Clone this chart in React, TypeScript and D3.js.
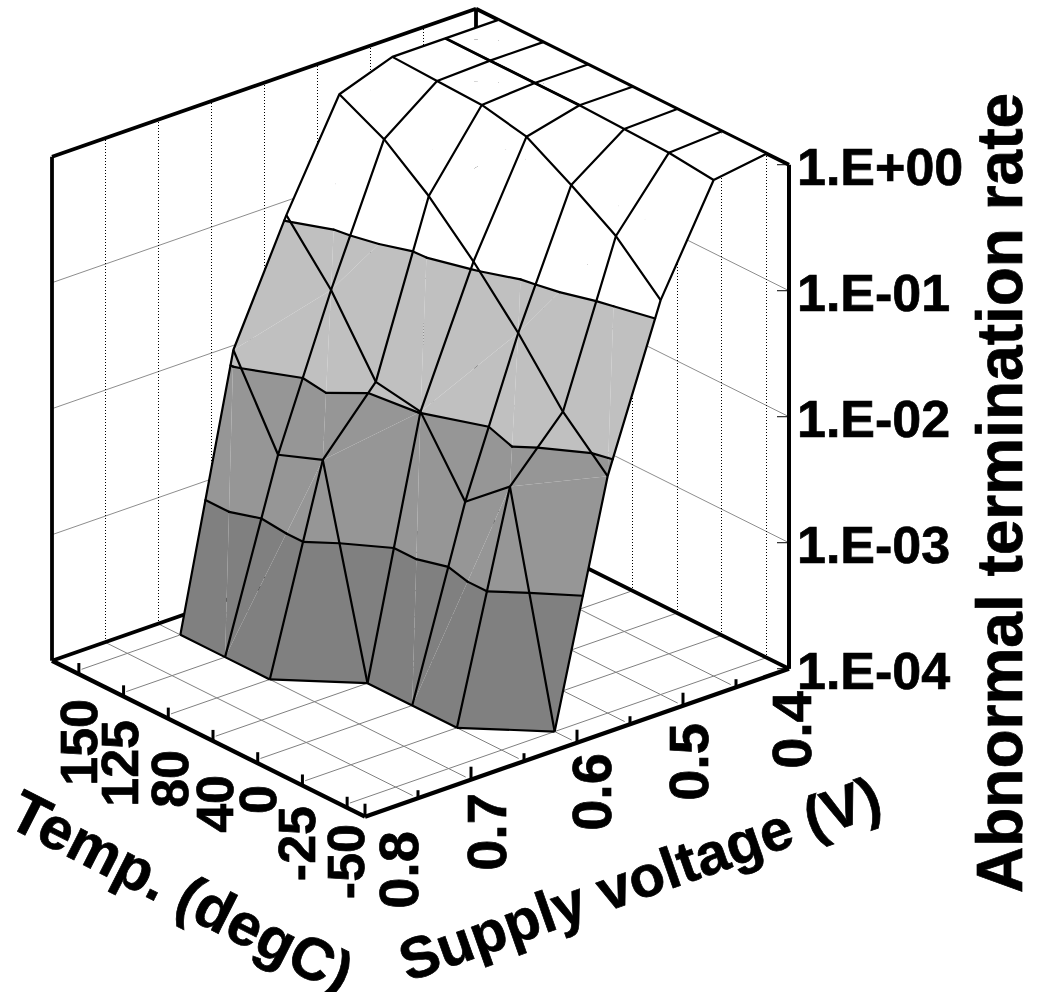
import React, { useEffect, useRef } from "react";
import * as d3 from "d3";

// categories
const temps = [-50, -25, 0, 40, 80, 125, 150];
const voltages = ["0.8", "0.75", "0.7", "0.65", "0.6", "0.55", "0.5", "0.45", "0.4"];
const rateTicks = [1, 0.1, 0.01, 0.001, 0.0001];
const rateLabels = ["1.E+00", "1.E-01", "1.E-02", "1.E-03", "1.E-04"];
const voltageLabels = ["0.8", "0.7", "0.6", "0.5", "0.4"];

// abnormal termination rate per temperature, one value per voltage (null = nothing measured)
const rateM50 = [null, null, null, null, 0.0001, 0.00759, 0.135, 0.865, 1];
const rateM25 = [null, null, null, 0.0001, 0.00585, 0.0164, 0.29, 0.948, 1];
const rate0 = [null, null, null, 0.0001, 0.00295, 0.046, 0.49, 0.973, 1];
const rate40 = [null, null, null, 0.0001, 0.0102, 0.113, 0.789, 1, 1];
const rate80 = [null, null, 0.0001, 0.00394, 0.0117, 0.249, 0.938, 1, 1];
const rate125 = [null, null, 0.0001, 0.00288, 0.0417, 0.468, 0.966, 1, 1];
const rate150 = [null, null, 0.0001, 0.013, 0.109, 0.708, 1, 1, 1];
const rates = [rateM50, rateM25, rate0, rate40, rate80, rate125, rate150];

// contour bands, low to high
const bandEdges = [-4, -3, -2, -1, 0];
const bandFills = ["#808080", "#969696", "#c0c0c0", "#ffffff"];

const FONT = "'Liberation Sans', Arial, sans-serif";

type P = { x: number; y: number; z: number };

const App = () => {
  const ref = useRef<SVGSVGElement>(null);

  useEffect(() => {
    const svg = d3.select(ref.current);
    svg.selectAll("*").remove();

    // oblique projection of the box, front corner is (-50, 0.8, 1e-4)
    const front = { x: 365, y: 816.7 };
    const tSlope = 0.4984;
    const vSlope = 0.349;
    const tLen = 313;
    const vLen = 424;
    const zLen = 504;

    const t = d3.scaleBand<number>().domain(temps).range([0, tLen]);
    const tc = (d: number) => t(d)! + t.bandwidth() / 2;
    const v = d3.scalePoint<string>().domain(voltages).range([0, vLen]);
    const z = d3.scaleLog().domain([1e-4, 1]).range([0, zLen]);

    const proj = (tp: number, vp: number, h: number) => ({
      x: front.x - tp + vp,
      y: front.y - tp * tSlope - vp * vSlope - h,
    });
    const line = d3
      .line<{ x: number; y: number }>()
      .x((d) => d.x)
      .y((d) => d.y);

    const seg = (
      a: { x: number; y: number },
      b: { x: number; y: number },
      stroke: string,
      width: number,
      dash?: string
    ) =>
      svg
        .append("path")
        .attr("d", line([a, b]))
        .attr("fill", "none")
        .attr("stroke", stroke)
        .attr("stroke-width", width)
        .attr("stroke-dasharray", dash ?? null);

    // wall gridlines
    [0.1, 0.01, 0.001].forEach((r) => {
      seg(proj(tLen, 0, z(r)), proj(tLen, vLen, z(r)), "#808080", 0.9);
      seg(proj(0, vLen, z(r)), proj(tLen, vLen, z(r)), "#808080", 0.9);
    });
    voltages.slice(1, 8).forEach((d) => {
      seg(proj(tLen, v(d)!, 0), proj(tLen, v(d)!, zLen), "#000", 1, "1 2").attr("shape-rendering", "crispEdges");
    });
    temps.forEach((d) => {
      seg(proj(tc(d), vLen, 0), proj(tc(d), vLen, zLen), "#000", 1, "1 2").attr("shape-rendering", "crispEdges");
    });

    // floor gridlines
    const inset = 0.017;
    temps.forEach((d) => {
      seg(proj(tc(d), vLen * inset, 0), proj(tc(d), vLen, 0), "#808080", 1);
    });
    voltages.slice(1, 8).forEach((d) => {
      seg(proj(tLen * inset, v(d)!, 0), proj(tLen, v(d)!, 0), "#808080", 1);
    });

    // box
    const boxW = 3.8;
    seg(proj(tLen, 0, 0), proj(tLen, 0, zLen), "#000", boxW);
    seg(proj(tLen, 0, zLen), proj(tLen, vLen, zLen), "#000", boxW);
    seg(proj(tLen, vLen, zLen), proj(0, vLen, zLen), "#000", boxW);
    seg(proj(tLen, vLen, 0), proj(tLen, vLen, zLen), "#000", boxW);
    seg(proj(tLen, 0, 0), proj(tLen, vLen, 0), "#000", boxW);
    seg(proj(tLen, vLen, 0), proj(0, vLen, 0), "#000", boxW);

    // surface vertices, null where there is no value
    const grid: (P | null)[][] = rates.map((row, i) =>
      row.map((r, j) => {
        if (r === null) return null;
        const p = proj(tc(temps[i]), v(voltages[j])!, z(r));
        return { ...p, z: Math.log10(r) };
      })
    );

    // split each cell in triangles, the diagonal alternates like a checkerboard
    const tris: P[][] = [];
    const extraEdges: [P, P][] = [];
    for (let j = voltages.length - 2; j >= 0; j--) {
      for (let i = temps.length - 1; i >= 1; i--) {
        const a = grid[i][j];
        const b = grid[i - 1][j];
        const c = grid[i - 1][j + 1];
        const d = grid[i][j + 1];
        if (!c || !d) continue;
        if (a && b) {
          if ((i + j) % 2 === 1) tris.push([a, b, c], [a, c, d]);
          else tris.push([a, b, d], [b, c, d]);
        } else if (a) {
          tris.push([a, c, d]);
          extraEdges.push([a, c]);
        }
      }
    }

    const lerp = (a: P, b: P, level: number): P => {
      const f = (level - a.z) / (b.z - a.z);
      return { x: a.x + (b.x - a.x) * f, y: a.y + (b.y - a.y) * f, z: level };
    };
    // clip a polygon to one side of a z level
    const clip = (poly: P[], level: number, keepAbove: boolean) => {
      const inside = (p: P) => (keepAbove ? p.z >= level : p.z <= level);
      const out: P[] = [];
      poly.forEach((p, n) => {
        const q = poly[(n + 1) % poly.length];
        if (inside(p)) out.push(p);
        if (inside(p) !== inside(q)) out.push(lerp(p, q, level));
      });
      return out;
    };

    const surface = svg.append("g");
    tris.forEach((tri) => {
      bandFills.forEach((fill, b) => {
        let poly = clip(tri, bandEdges[b], true);
        if (poly.length) poly = clip(poly, bandEdges[b + 1], false);
        if (poly.length < 3) return;
        surface
          .append("path")
          .attr("d", line(poly) + "Z")
          .attr("fill", fill)
          .attr("stroke", "none");
      });
    });

    // mesh lines
    const meshW = 2.2;
    const mesh = (pts: (P | null)[], width = meshW) => {
      const clean = pts.filter((p): p is P => p !== null);
      if (clean.length < 2) return;
      svg
        .append("path")
        .attr("d", line(clean))
        .attr("fill", "none")
        .attr("stroke", "#000")
        .attr("stroke-width", width)
        .attr("stroke-linejoin", "round");
    };
    grid.forEach((row) => mesh(row));
    voltages.forEach((_, j) => mesh(grid.map((row) => row[j])));
    extraEdges.forEach((e) => mesh(e));
    // this stretch of the 0.45 V line is heavier in the original
    mesh(grid.slice(3).map((row) => row[7]), 2.8);

    // contour lines
    [-1, -2, -3].forEach((level) => {
      tris.forEach((tri) => {
        const hits: P[] = [];
        tri.forEach((p, n) => {
          const q = tri[(n + 1) % 3];
          if (p.z < level !== q.z < level) hits.push(lerp(p, q, level));
        });
        if (hits.length === 2) seg(hits[0], hits[1], "#000", meshW).attr("stroke-linecap", "round");
      });
    });

    // axis ticks
    temps.forEach((d) => {
      const a = proj(tc(d), 0, 0);
      const x = a.x + 4.5;
      const y = a.y + 2.2;
      seg({ x, y }, { x, y: y - 11 }, "#000", 3);
    });
    voltages.forEach((d, j) => {
      const a = proj(0, v(d)!, 0);
      seg(a, { x: a.x, y: a.y - (j % 2 === 0 ? 13 : 8) }, "#000", 3);
    });
    rateTicks.forEach((r) => {
      const a = proj(0, vLen, z(r));
      seg({ x: a.x - 12, y: a.y }, a, "#000", 1);
    });

    // front axis edges go over the ticks
    seg(proj(tLen, 0, 0), proj(0, 0, 0), "#000", boxW + 0.5);
    seg(proj(0, 0, 0), proj(0, vLen, 0), "#000", boxW + 0.5);
    seg(proj(0, vLen, 0), proj(0, vLen, zLen), "#000", boxW + 0.2);

    // text
    const text = (s: string, x: number, y: number, size: number, angle: number, anchor = "start") =>
      svg
        .append("text")
        .attr("transform", `translate(${x},${y}) rotate(${angle})`)
        .attr("text-anchor", anchor)
        .attr("font-family", FONT)
        .attr("font-weight", "bold")
        .attr("font-size", size)
        .attr("fill", "#000")
        .attr("stroke", "#000")
        .attr("stroke-width", 0.7)
        .text(s);

    rateLabels.forEach((s, i) => {
      const a = proj(0, vLen, z(rateTicks[i]));
      text(s, 797, a.y + 20.5, 52, 0);
    });

    const tempLabelX = [364, 315, 276, 233, 188, 138, 97];
    const tempLabelY = [824, 806, 785, 775, 750, 720, 699];
    temps.forEach((d, i) => text(String(d), tempLabelX[i], tempLabelY[i], 52, -90, "end"));

    const voltLabelX = [418, 506, 611, 708, 811];
    const voltLabelY = [831, 793, 753, 723, 691];
    voltageLabels.forEach((s, i) => text(s, voltLabelX[i], voltLabelY[i], 56, -90, "end"));

    text("Temp. (degC)", 5, 825, 59.5, 27);
    text("Supply voltage (V)", 408, 982, 58, -19.5);
    text("Abnormal termination rate", 1022, 893, 64, -90);
  }, []);

  return <svg ref={ref} width={1040} height={992} style={{ position: "absolute", left: 0, top: 0 }}></svg>;
};

export default App;
